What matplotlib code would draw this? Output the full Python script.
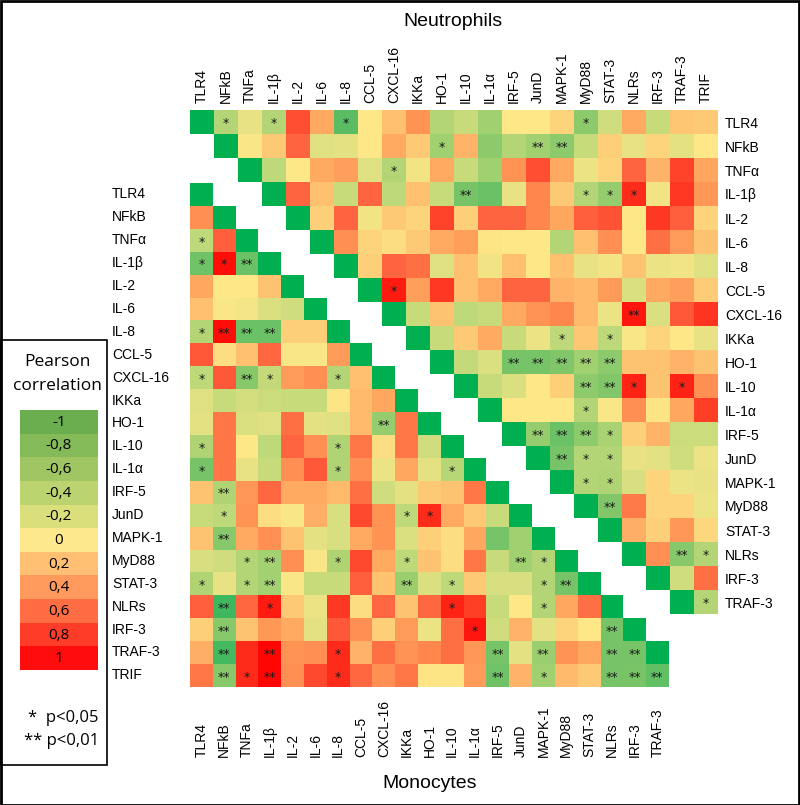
import numpy as np
import matplotlib.pyplot as plt
import matplotlib.transforms as mtransforms
from matplotlib.colors import LinearSegmentedColormap, ListedColormap
from matplotlib.patches import Rectangle

plt.rcParams['font.family'] = ['Liberation Sans', 'DejaVu Sans']

# labels
col_labels = ['TLR4', 'NFkB', 'TNFa', 'IL-1β', 'IL-2', 'IL-6', 'IL-8', 'CCL-5', 'CXCL-16', 'IKKa',
              'HO-1', 'IL-10', 'IL-1α', 'IRF-5', 'JunD', 'MAPK-1', 'MyD88', 'STAT-3', 'NLRs',
              'IRF-3', 'TRAF-3', 'TRIF']
row_labels = ['TLR4', 'NFkB', 'TNFα', 'IL-1β', 'IL-2', 'IL-6', 'IL-8', 'CCL-5', 'CXCL-16', 'IKKa',
              'HO-1', 'IL-10', 'IL-1α', 'IRF-5', 'JunD', 'MAPK-1', 'MyD88', 'STAT-3', 'NLRs',
              'IRF-3', 'TRAF-3', 'TRIF']

# Neutrophils: row i holds r for columns i+1 .. TRIF
neut_rows = [
    [-0.4, -0.1, -0.4, 0.7, 0.3, -0.8, 0.0, 0.2, 0.4, -0.4, -0.3, -0.5, 0.0, 0.0, 0.1, -0.6, -0.25, 0.3, -0.3, 0.17, 0.15],
    [-0.02, 0.15, 0.6, -0.15, -0.12, 0.0, 0.3, 0.15, -0.5, 0.25, -0.6, -0.4, -0.5, -0.6, -0.3, 0.12, -0.1, 0.1, -0.12, 0.0],
    [-0.35, 0.0, 0.3, 0.35, -0.15, -0.4, -0.05, 0.3, -0.3, -0.5, 0.4, 0.7, 0.3, -0.08, 0.1, 0.6, 0.25, 0.75, 0.32],
    [0.6, 0.2, -0.3, 0.6, -0.35, 0.2, -0.3, -0.7, -0.75, -0.1, 0.45, 0.15, -0.4, -0.55, 0.85, -0.05, 0.8, 0.38],
    [0.12, 0.6, -0.05, 0.15, 0.1, 0.75, 0.12, 0.6, 0.6, 0.45, 0.32, 0.62, 0.68, 0.0, 0.8, 0.62, 0.1],
    [0.42, 0.1, 0.05, 0.15, 0.3, 0.35, 0.02, 0.0, 0.0, -0.4, 0.2, 0.42, 0.0, 0.55, 0.36, 0.18],
    [0.12, 0.6, 0.55, -0.15, 0.2, -0.05, 0.2, 0.0, 0.2, -0.1, -0.05, 0.18, -0.08, -0.06, -0.15],
    [0.9, 0.35, 0.8, 0.2, 0.3, 0.6, 0.6, 0.25, 0.22, 0.36, -0.18, 0.3, 0.35, 0.14],
    [-0.3, 0.18, -0.35, -0.3, 0.3, 0.4, 0.45, 0.22, -0.08, 0.92, -0.18, 0.65, 0.82],
    [-0.3, 0.15, 0.3, -0.3, -0.08, -0.35, 0.16, -0.35, -0.02, 0.1, 0.0, -0.1],
    [-0.32, -0.18, -0.7, -0.7, -0.65, -0.5, -0.6, 0.18, 0.18, 0.25, 0.18],
    [-0.3, -0.18, 0.0, 0.12, -0.6, -0.65, 0.88, 0.18, 0.88, 0.42],
    [0.0, 0.0, 0.0, -0.4, -0.02, 0.42, 0.02, 0.32, 0.78],
    [-0.55, -0.75, -0.6, -0.45, 0.12, 0.25, -0.28, -0.28],
    [-0.7, -0.4, -0.4, -0.1, -0.12, -0.25, -0.08],
    [-0.4, -0.42, -0.2, 0.1, -0.08, -0.1],
    [-0.65, 0.5, 0.1, 0.1, -0.08],
    [0.28, 0.12, 0.38, 0.08],
    [0.42, -0.62, -0.4],
    [-0.25, 0.55],
    [-0.4],
]
neut_stars = [(0, 1, '*'), (0, 3, '*'), (0, 6, '*'), (0, 16, '*'),
              (1, 10, '*'), (1, 14, '**'), (1, 15, '**'),
              (2, 8, '*'),
              (3, 11, '**'), (3, 16, '*'), (3, 17, '*'), (3, 18, '*'),
              (7, 8, '*'), (8, 18, '**'), (9, 15, '*'), (9, 17, '*'),
              (10, 13, '**'), (10, 14, '**'), (10, 15, '**'), (10, 16, '**'), (10, 17, '**'),
              (11, 16, '**'), (11, 17, '**'), (11, 18, '*'), (11, 20, '*'),
              (12, 16, '*'),
              (13, 14, '**'), (13, 15, '**'), (13, 16, '**'), (13, 17, '*'),
              (14, 15, '**'), (14, 16, '*'), (14, 17, '*'),
              (15, 16, '*'), (15, 17, '*'), (16, 17, '**'),
              (18, 20, '**'), (18, 21, '*'), (20, 21, '*')]

# Monocytes: row j holds r for columns TLR4 .. j-1
mono_rows = [
    [],
    [0.42],
    [-0.35, 0.62],
    [-0.72, 0.95, -0.75],
    [0.32, 0.0, 0.0, 0.18],
    [0.2, -0.02, -0.04, -0.18, -0.25],
    [-0.4, 0.95, -0.75, -0.75, 0.12, 0.12],
    [0.65, 0.05, 0.2, 0.58, -0.02, -0.02, 0.36],
    [-0.35, 0.65, -0.62, -0.32, 0.36, 0.42, -0.4, 0.2],
    [-0.15, -0.3, -0.22, -0.28, -0.3, -0.3, 0.02, 0.22, 0.32],
    [-0.12, 0.52, -0.18, -0.15, 0.55, -0.12, -0.15, 0.22, -0.55, 0.52],
    [-0.42, 0.52, 0.0, -0.35, 0.6, 0.42, -0.42, 0.52, 0.05, 0.52, -0.25],
    [-0.7, 0.52, -0.1, -0.3, 0.42, 0.65, -0.42, 0.42, -0.08, 0.32, -0.12, -0.38],
    [0.18, -0.42, 0.38, 0.58, 0.3, 0.3, 0.22, 0.55, -0.25, -0.12, 0.15, 0.18, 0.52],
    [-0.3, -0.35, 0.4, 0.05, -0.02, 0.28, -0.2, 0.72, 0.4, -0.35, 0.85, 0.3, 0.15, -0.3],
    [0.18, -0.62, 0.3, 0.42, 0.18, -0.12, -0.2, 0.3, 0.4, -0.18, 0.12, 0.05, 0.32, -0.7, -0.5],
    [-0.2, -0.25, -0.4, -0.48, 0.42, -0.02, -0.42, 0.72, 0.3, -0.35, 0.18, 0.05, 0.52, -0.3, -0.5, -0.4],
    [-0.42, -0.1, -0.4, -0.48, -0.02, -0.3, -0.3, 0.62, 0.18, -0.52, -0.18, -0.35, 0.15, -0.2, -0.2, -0.4, -0.7],
    [0.62, -0.9, 0.58, 0.9, 0.15, -0.08, 0.8, 0.05, 0.58, 0.18, 0.58, 0.88, 0.78, -0.3, 0.0, -0.4, 0.32, 0.55],
    [0.12, -0.62, 0.18, 0.38, 0.3, -0.12, 0.65, 0.42, 0.12, 0.36, -0.08, 0.55, 0.92, -0.25, 0.25, -0.12, 0.1, 0.0, -0.7],
    [0.28, -0.88, 0.85, 0.97, 0.4, 0.42, 0.85, 0.25, 0.55, 0.4, 0.45, 0.55, 0.38, -0.7, -0.12, -0.52, 0.4, 0.32, -0.7, -0.7],
    [0.52, -0.62, 0.85, 0.97, 0.42, 0.72, 0.85, 0.58, 0.42, 0.52, 0.02, 0.02, 0.36, -0.72, 0.25, -0.5, 0.22, 0.15, -0.7, -0.68, -0.78],
]
mono_stars = [(2, 0, '*'), (3, 0, '*'), (3, 1, '*'), (3, 2, '**'),
              (6, 0, '*'), (6, 1, '**'), (6, 2, '**'), (6, 3, '**'),
              (8, 0, '*'), (8, 2, '**'), (8, 3, '*'), (8, 6, '*'),
              (10, 8, '**'), (11, 0, '*'), (11, 6, '*'),
              (12, 0, '*'), (12, 6, '*'), (12, 11, '*'),
              (13, 1, '**'), (14, 1, '*'), (14, 9, '*'), (14, 10, '*'), (15, 1, '**'),
              (16, 2, '*'), (16, 3, '**'), (16, 6, '*'), (16, 9, '*'), (16, 14, '**'), (16, 15, '*'),
              (17, 0, '*'), (17, 2, '*'), (17, 3, '**'), (17, 9, '**'), (17, 11, '*'), (17, 15, '*'), (17, 16, '**'),
              (18, 1, '**'), (18, 3, '*'), (18, 11, '*'), (18, 15, '*'),
              (19, 1, '**'), (19, 12, '*'), (19, 18, '**'),
              (20, 1, '**'), (20, 3, '**'), (20, 6, '*'), (20, 13, '**'), (20, 15, '**'), (20, 18, '**'), (20, 19, '**'),
              (21, 1, '**'), (21, 2, '*'), (21, 3, '**'), (21, 6, '*'), (21, 13, '**'), (21, 15, '*'),
              (21, 18, '**'), (21, 19, '**'), (21, 20, '**')]

legend_ticks = [-1, -0.8, -0.6, -0.4, -0.2, 0, 0.2, 0.4, 0.6, 0.8, 1]
legend_colors = ['#6aae4f', '#84bb58', '#9fc663', '#bcd46f', '#dadf7c', '#fde98b',
                 '#ffc073', '#ff9a5c', '#ff6d44', '#ff3c28', '#ff0d0d']

cmap = LinearSegmentedColormap.from_list('corr', [
    (0.0, '#30b058'), (0.05, '#40b860'), (0.15, '#78c468'), (0.25, '#a0d070'),
    (0.35, '#c8dc7c'), (0.45, '#e8e284'), (0.5, '#fde888'), (0.6, '#ffc070'),
    (0.7, '#ff9454'), (0.8, '#ff6440'), (0.9, '#ff3a24'), (1.0, '#ff0000')])
cmap.set_bad((1, 1, 1, 0))
diag_cmap = ListedColormap(['#00b050'])
diag_cmap.set_bad((1, 1, 1, 0))

n_rows, n_cols = 21, 22
N = np.full((n_rows, n_cols), np.nan)
Nd = np.full((n_rows, n_cols), np.nan)
for i, vals in enumerate(neut_rows):
    N[i, i + 1:] = vals
    Nd[i, i] = 1
m_rows, m_cols = 22, 21
M = np.full((m_rows, m_cols), np.nan)
Md = np.full((m_rows, m_cols), np.nan)
for j, vals in enumerate(mono_rows):
    M[j, :j] = vals
    if j < m_cols:
        Md[j, j] = 1

W, H = 800, 805
fig = plt.figure(figsize=(W / 100, H / 100), dpi=100)


def px_axes(x0, y0, w, h):
    return fig.add_axes([x0 / W, 1 - (y0 + h) / H, w / W, h / H])


def draw(ax, vals, diag, stars):
    ax.imshow(np.ma.masked_invalid(vals), cmap=cmap, vmin=-1, vmax=1, aspect='auto', interpolation='nearest')
    ax.imshow(np.ma.masked_invalid(diag), cmap=diag_cmap, vmin=0, vmax=2, aspect='auto', interpolation='nearest')
    for r, c, s in stars:
        ax.text(c, r + 0.08, s, ha='center', va='center', fontsize=9, color='#1a1a1a', family='DejaVu Sans')
    ax.set_facecolor('none')
    for sp in ax.spines.values():
        sp.set_visible(False)


# neutrophils
ax_n = px_axes(190, 110, 528, 504)
draw(ax_n, N, Nd, neut_stars)
ax_n.xaxis.tick_top()
ax_n.set_xticks(range(n_cols))
ax_n.set_xticklabels(col_labels, rotation=90, fontsize=10)
ax_n.yaxis.tick_right()
ax_n.set_yticks(range(n_rows))
ax_n.set_yticklabels(row_labels[:n_rows], fontsize=10)
ax_n.tick_params(length=0, pad=5)

# monocytes
ax_m = px_axes(190, 183, 478.8, 503.8)
draw(ax_m, M, Md, mono_stars)
ax_m.set_xticks([])
ax_m.set_yticks([])
tb = mtransforms.blended_transform_factory(ax_m.transData, fig.transFigure)
for c in range(m_cols):
    ax_m.text(c, 1 - 757 / H, col_labels[c], rotation=90, ha='center', va='bottom', fontsize=10, transform=tb)
tl = mtransforms.blended_transform_factory(fig.transFigure, ax_m.transData)
for j in range(m_rows):
    ax_m.text(112 / W, j, row_labels[j], ha='left', va='center', fontsize=10, transform=tl)

fig.text(453 / W, 1 - 22 / H, 'Neutrophils', ha='center', va='center', fontsize=14)
fig.text(430 / W, 1 - 783 / H, 'Monocytes', ha='center', va='center', fontsize=14)

# legend
ax_l = px_axes(20, 410, 78, 260)
ax_l.set_xlim(0, 1)
ax_l.set_ylim(len(legend_ticks), 0)
ax_l.axis('off')
for k, (t, col) in enumerate(zip(legend_ticks, legend_colors)):
    ax_l.add_patch(Rectangle((0, k), 1, 1, facecolor=col, edgecolor='none'))
    lab = '{:g}'.format(t).replace('.', ',')
    ax_l.text(0.5, k + 0.52, lab, ha='center', va='center', fontsize=11, family=['Open Sans', 'DejaVu Sans'])
fig.text(57 / W, 1 - 362 / H, 'Pearson', ha='center', va='center', fontsize=12.5, family=['Open Sans', 'DejaVu Sans'])
fig.text(57 / W, 1 - 386 / H, 'correlation', ha='center', va='center', fontsize=12.5, family=['Open Sans', 'DejaVu Sans'])
fig.text(28 / W, 1 - 718 / H, '*  p<0,05', ha='left', va='center', fontsize=12, family=['Open Sans', 'DejaVu Sans'])
fig.text(24 / W, 1 - 741 / H, '** p<0,01', ha='left', va='center', fontsize=12, family=['Open Sans', 'DejaVu Sans'])

fig.patches.append(Rectangle((0.5 / W, 0.5 / H), 1 - 1.5 / W, 1 - 1.5 / H, transform=fig.transFigure,
                             fill=False, edgecolor='black', linewidth=2))
fig.patches.append(Rectangle((1 / W, 1 - 765 / H), 106 / W, 425 / H, transform=fig.transFigure,
                             fill=False, edgecolor='black', linewidth=1.2))

fig.savefig('out.png', dpi=100)
